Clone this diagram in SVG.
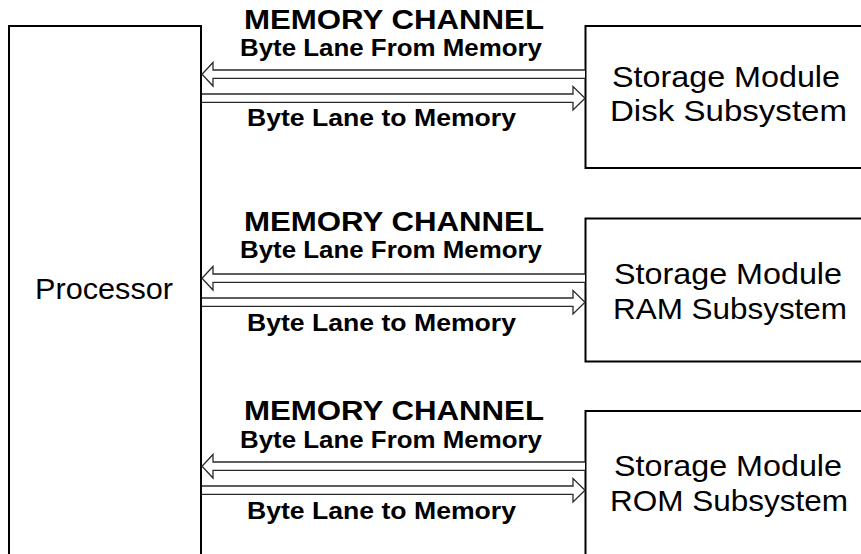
<svg xmlns="http://www.w3.org/2000/svg" width="861" height="554" viewBox="0 0 861 554">
<style>
.box{fill:#fff;stroke:#000;stroke-width:2}
.arr{fill:#fff;stroke:#2a2a2a;stroke-width:1.3;stroke-linejoin:miter}
.mc{font-family:"Liberation Sans",Arial,sans-serif;font-weight:bold;font-size:27px;fill:#000}
.bl{font-family:"Liberation Sans",Arial,sans-serif;font-weight:bold;font-size:24px;fill:#000}
.nt{font-family:"Liberation Sans",Arial,sans-serif;font-size:30px;fill:#000}
</style>
<rect width="861" height="554" fill="#fff"/>
<g id="processor">
<rect class="box" x="9" y="26" width="192" height="540"/>
<text class="nt" x="35" y="299" textLength="138" lengthAdjust="spacingAndGlyphs">Processor</text>
</g>
<g id="disk">
<rect class="box" x="585.5" y="26" width="290" height="142"/>
<text class="nt" x="612" y="87" textLength="228" lengthAdjust="spacingAndGlyphs">Storage Module</text>
<text class="nt" x="610" y="121" textLength="237" lengthAdjust="spacingAndGlyphs">Disk Subsystem</text>
</g>
<g id="ram">
<rect class="box" x="585.5" y="218.5" width="290" height="143"/>
<text class="nt" x="614" y="284" textLength="228" lengthAdjust="spacingAndGlyphs">Storage Module</text>
<text class="nt" x="613" y="319" textLength="234" lengthAdjust="spacingAndGlyphs">RAM Subsystem</text>
</g>
<g id="rom">
<rect class="box" x="585.5" y="411" width="290" height="160"/>
<text class="nt" x="614" y="476" textLength="228" lengthAdjust="spacingAndGlyphs">Storage Module</text>
<text class="nt" x="610" y="511" textLength="238" lengthAdjust="spacingAndGlyphs">ROM Subsystem</text>
</g>
<g id="connectors">
<g id="ch1">
<polyline class="arr" points="585,70 213,70 213,62.5 202,74.2 213,86 213,78.4 585,78.4"/>
<polyline class="arr" points="202,94 573,94 573,86.5 585,98.2 573,110 573,102.4 202,102.4"/>
</g>
<g id="ch2">
<polyline class="arr" points="585,274 213,274 213,266.5 202,278.2 213,290 213,282.4 585,282.4"/>
<polyline class="arr" points="202,298 573,298 573,290.5 585,302.2 573,314 573,306.4 202,306.4"/>
</g>
<g id="ch3">
<polyline class="arr" points="585,462 213,462 213,454.5 202,466.2 213,478 213,470.4 585,470.4"/>
<polyline class="arr" points="202,486 573,486 573,478.5 585,490.2 573,502 573,494.4 202,494.4"/>
</g>
</g>
<g id="labels">
<text class="mc" x="244" y="29" textLength="300" lengthAdjust="spacingAndGlyphs">MEMORY CHANNEL</text>
<text class="bl" x="240" y="56" textLength="302" lengthAdjust="spacingAndGlyphs">Byte Lane From Memory</text>
<text class="bl" x="247" y="126" textLength="269" lengthAdjust="spacingAndGlyphs">Byte Lane to Memory</text>
<text class="mc" x="244" y="231" textLength="300" lengthAdjust="spacingAndGlyphs">MEMORY CHANNEL</text>
<text class="bl" x="240" y="258" textLength="302" lengthAdjust="spacingAndGlyphs">Byte Lane From Memory</text>
<text class="bl" x="247" y="331" textLength="269" lengthAdjust="spacingAndGlyphs">Byte Lane to Memory</text>
<text class="mc" x="244" y="420" textLength="300" lengthAdjust="spacingAndGlyphs">MEMORY CHANNEL</text>
<text class="bl" x="240" y="448" textLength="302" lengthAdjust="spacingAndGlyphs">Byte Lane From Memory</text>
<text class="bl" x="247" y="519" textLength="269" lengthAdjust="spacingAndGlyphs">Byte Lane to Memory</text>
</g>
</svg>
